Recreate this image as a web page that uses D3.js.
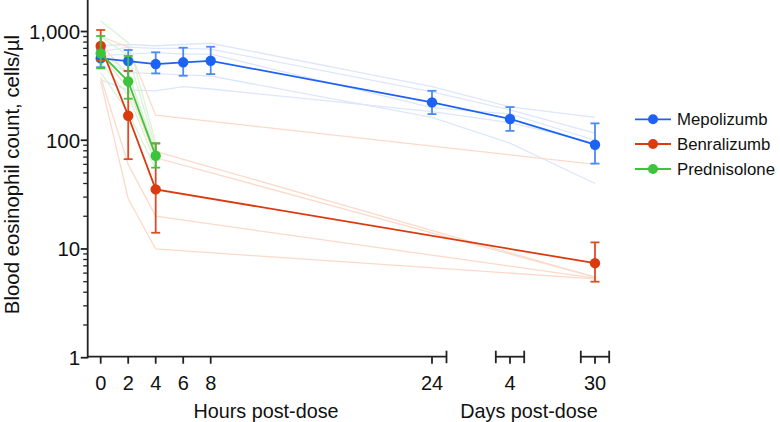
<!DOCTYPE html>
<html><head><meta charset="utf-8">
<script src="https://cdn.jsdelivr.net/npm/d3@7"></script>
<style>
html,body{margin:0;padding:0;background:#fff;}
svg{display:block;font-family:"Liberation Sans",Arial,Helvetica,sans-serif;}
</style></head>
<body>
<svg id="chart" width="780" height="422"></svg>
<script>
// ---- data (hours post-dose; day 4 = 96 h, day 30 = 720 h) ----
const mepoTimes = [0, 2, 4, 6, 8, 24, 96, 720];
const mepoMean  = [566, 535, 502, 521, 538, 223, 157, 91];
const mepoLow   = [470, 433, 412, 392, 406, 174, 122, 61];
const mepoHigh  = [680, 676, 644, 710, 724, 285, 202, 143];

const benraTimes = [0, 2, 4, 720];
const benraMean  = [736, 168, 35.3, 7.4];
const benraLow   = [540, 67, 14.1, 5.0];
const benraHigh  = [1033, 435, 93.6, 11.5];

const prednTimes = [0, 2, 4];
const prednMean  = [630, 348, 72];
const prednLow   = [458, 241, 56];
const prednHigh  = [910, 596, 93.6];

const mepoIndividuals = [
  [740, 760, 740, 760, 780, 311, 203, 162],
  [650, 720, 700, 700, 690, 279, 190, 116],
  [600, 620, 640, 620, 620, 200, 175, 100],
  [560, 420, 410, 400, 390, 162, 94, 40],
  [360, 290, 285, 311, 296, 183, 145, 94]
];
const benraIndividuals = [
  [900, 720, 170, 60],
  [760, 400, 79, 5.5],
  [620, 300, 69, 5.5],
  [380, 60, 20, 5.4],
  [350, 29, 10, 5.3]
];
const prednIndividuals = [
  [1250, 790, 95],
  [900, 600, 85],
  [650, 420, 75],
  [520, 260, 62],
  [420, 180, 55]
];

const seriesNames = ["Mepolizumb", "Benralizumb", "Prednisolone"];
const hourTicks = [0, 2, 4, 6, 8, 24];
const hourTickLabels = ["0", "2", "4", "6", "8", "24"];
const dayTicks = [96, 720];
const dayTickLabels = ["4", "30"];
const yMajorTicks = [1, 10, 100, 1000];
const yMajorLabels = ["1", "10", "100", "1,000"];

// ---- styles ----
const colors = {
  Mepolizumb:  {line: "#1c63f4", err: "#4a8bf3", faint: "#dde6fb"},
  Benralizumb: {line: "#db3a0f", err: "#e04b25", faint: "#fcdaca"},
  Prednisolone:{line: "#3cc43c", err: "#3cc43c", faint: "#d8f3d6"}
};

const svg = d3.select("#chart");
const axisColor = "#222";

// scales
const x = d3.scaleLinear().domain([0, 8, 24, 96, 720]).range([100.7, 210.7, 432, 510, 595]);
const y = d3.scaleLog().domain([1, 2000]).range([357.7, -1.2]);
const axisY = 356.7, axisX = 87.7;

// ---- axes ----
const gAxis = svg.append("g");
gAxis.append("line").attr("x1", axisX).attr("x2", axisX).attr("y1", 0).attr("y2", y(1) + 0.5)
  .attr("stroke", axisColor).attr("stroke-width", 1.8);
const minor = [];
[1, 10, 100].forEach(d => { for (let k = 2; k <= 9; k++) minor.push(d * k); });
gAxis.selectAll(".ymin").data(minor).join("line")
  .attr("x1", axisX - 4.5).attr("x2", axisX).attr("y1", d => y(d)).attr("y2", d => y(d))
  .attr("stroke", axisColor).attr("stroke-width", 1.3);
gAxis.selectAll(".ymaj").data(yMajorTicks).join("line")
  .attr("x1", axisX - 7).attr("x2", axisX).attr("y1", d => y(d)).attr("y2", d => y(d))
  .attr("stroke", axisColor).attr("stroke-width", 1.8);
gAxis.selectAll(".ylab").data(yMajorTicks).join("text")
  .attr("x", axisX - 7.5).attr("y", d => y(d)).attr("dy", "0.36em")
  .attr("text-anchor", "end").attr("font-size", 20.5).attr("fill", "#111")
  .text((d, i) => yMajorLabels[i]);

const seg1End = x(24) + 14.5;
gAxis.append("line").attr("x1", axisX).attr("x2", seg1End).attr("y1", axisY).attr("y2", axisY)
  .attr("stroke", axisColor).attr("stroke-width", 1.8);
const segHalf = 14.2;
const caps = [seg1End];
dayTicks.forEach(t => {
  gAxis.append("line").attr("x1", x(t) - segHalf).attr("x2", x(t) + segHalf)
    .attr("y1", axisY).attr("y2", axisY).attr("stroke", axisColor).attr("stroke-width", 1.8);
  caps.push(x(t) - segHalf, x(t) + segHalf);
});
gAxis.selectAll(".cap").data(caps).join("line")
  .attr("x1", d => d).attr("x2", d => d).attr("y1", axisY - 6).attr("y2", axisY + 6.5)
  .attr("stroke", axisColor).attr("stroke-width", 1.8);
const allTicks = hourTicks.concat(dayTicks);
const allTickLabels = hourTickLabels.concat(dayTickLabels);
gAxis.selectAll(".xt").data(allTicks).join("line")
  .attr("x1", d => x(d)).attr("x2", d => x(d)).attr("y1", axisY).attr("y2", axisY + 7)
  .attr("stroke", axisColor).attr("stroke-width", 1.8);
gAxis.selectAll(".xl").data(allTicks).join("text")
  .attr("x", d => x(d)).attr("y", 390).attr("text-anchor", "middle")
  .attr("font-size", 20).attr("fill", "#111").text((d, i) => allTickLabels[i]);

svg.append("text").attr("x", 266).attr("y", 418).attr("text-anchor", "middle")
  .attr("font-size", 19.8).attr("fill", "#111").text("Hours post-dose");
svg.append("text").attr("x", 529).attr("y", 418).attr("text-anchor", "middle")
  .attr("font-size", 19.8).attr("fill", "#111").text("Days post-dose");
svg.append("text").attr("transform", "translate(19,174.5) rotate(-90)")
  .attr("text-anchor", "middle").attr("font-size", 20.4).attr("fill", "#111")
  .text("Blood eosinophil count, cells/\u00b5l");

// ---- data marks ----
const series = [
  {name: "Mepolizumb", times: mepoTimes, mean: mepoMean, low: mepoLow, high: mepoHigh, ind: mepoIndividuals},
  {name: "Benralizumb", times: benraTimes, mean: benraMean, low: benraLow, high: benraHigh, ind: benraIndividuals},
  {name: "Prednisolone", times: prednTimes, mean: prednMean, low: prednLow, high: prednHigh, ind: prednIndividuals}
];
const line = d3.line().x(d => x(d[0])).y(d => y(d[1]));

const gFaint = svg.append("g");
series.forEach(s => {
  s.ind.forEach(vals => {
    gFaint.append("path").attr("d", line(s.times.map((t, i) => [t, vals[i]])))
      .attr("fill", "none").attr("stroke", colors[s.name].faint).attr("stroke-width", 1.3);
  });
});

series.forEach(s => {
  const c = colors[s.name];
  const g = svg.append("g");
  const pts = s.times.map((t, i) => ({t, m: s.mean[i], lo: s.low[i], hi: s.high[i]}));
  g.append("path").attr("d", line(pts.map(p => [p.t, p.m])))
    .attr("fill", "none").attr("stroke", c.line).attr("stroke-width", 1.8);
  const eb = g.selectAll(".eb").data(pts).join("g");
  eb.append("line").attr("x1", p => x(p.t)).attr("x2", p => x(p.t))
    .attr("y1", p => y(p.lo)).attr("y2", p => y(p.hi)).attr("stroke", c.err).attr("stroke-width", 1.8);
  eb.append("line").attr("x1", p => x(p.t) - 4.5).attr("x2", p => x(p.t) + 4.5)
    .attr("y1", p => y(p.lo)).attr("y2", p => y(p.lo)).attr("stroke", c.err).attr("stroke-width", 1.8);
  eb.append("line").attr("x1", p => x(p.t) - 4.5).attr("x2", p => x(p.t) + 4.5)
    .attr("y1", p => y(p.hi)).attr("y2", p => y(p.hi)).attr("stroke", c.err).attr("stroke-width", 1.8);
  g.selectAll("circle").data(pts).join("circle")
    .attr("cx", p => x(p.t)).attr("cy", p => y(p.m)).attr("r", 5.2).attr("fill", c.line);
});

// ---- legend ----
const lg = svg.append("g");
const legY = [119.3, 144, 169];
seriesNames.forEach((n, i) => {
  const c = colors[n];
  lg.append("line").attr("x1", 635).attr("x2", 671).attr("y1", legY[i]).attr("y2", legY[i])
    .attr("stroke", c.line).attr("stroke-width", 1.8);
  lg.append("circle").attr("cx", 653).attr("cy", legY[i]).attr("r", 5).attr("fill", c.line);
  lg.append("text").attr("x", 677).attr("y", legY[i]).attr("dy", "0.36em")
    .attr("font-size", 16.8).attr("fill", "#111").text(n);
});
</script>
</body></html>
